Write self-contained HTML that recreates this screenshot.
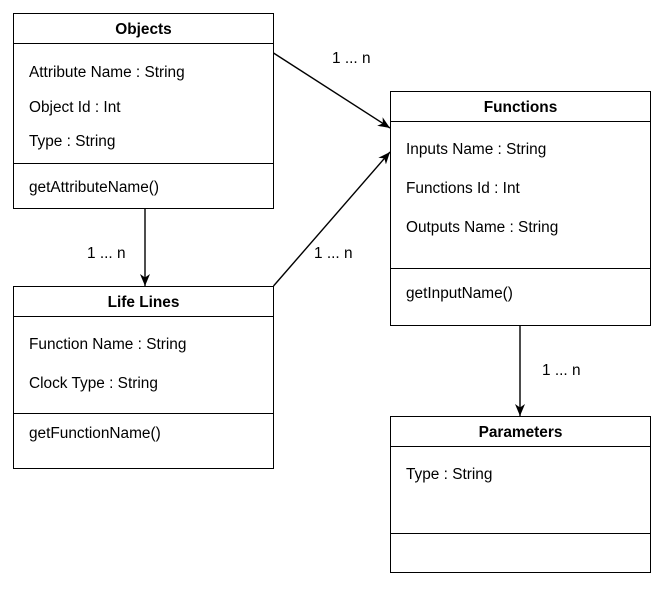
<!DOCTYPE html>
<html><head><meta charset="utf-8"><style>
html,body{margin:0;padding:0;background:#fff;}
svg text{font-family:"Liberation Sans",Arial,sans-serif;font-size:15.4px;fill:#000;}
.b{font-weight:bold;}
</style></head><body>
<svg width="666" height="587" viewBox="0 0 666 587" xmlns="http://www.w3.org/2000/svg">
<defs><marker id="a" markerWidth="14" markerHeight="14" refX="12" refY="6" orient="auto" markerUnits="userSpaceOnUse"><path d="M0,1 L12,6 L0,11 L3.5,6 Z" fill="#000"/></marker></defs>
<g fill="#fff" stroke="#000" stroke-width="1">
<rect x="13.5" y="13.5" width="260" height="195"/>
<line x1="13.5" y1="43.5" x2="273.5" y2="43.5"/>
<line x1="13.5" y1="163.5" x2="273.5" y2="163.5"/>
<rect x="13.5" y="286.5" width="260" height="182"/>
<line x1="13.5" y1="316.5" x2="273.5" y2="316.5"/>
<line x1="13.5" y1="413.5" x2="273.5" y2="413.5"/>
<rect x="390.5" y="91.5" width="260" height="234"/>
<line x1="390.5" y1="121.5" x2="650.5" y2="121.5"/>
<line x1="390.5" y1="268.5" x2="650.5" y2="268.5"/>
<rect x="390.5" y="416.5" width="260" height="156"/>
<line x1="390.5" y1="446.5" x2="650.5" y2="446.5"/>
<line x1="390.5" y1="533.5" x2="650.5" y2="533.5"/>
</g>
<g stroke="#000" stroke-width="1.4" fill="none" marker-end="url(#a)">
<line x1="273.5" y1="53" x2="390" y2="128"/>
<line x1="145" y1="208.5" x2="145" y2="286"/>
<line x1="273.5" y1="286" x2="390" y2="152"/>
<line x1="520" y1="325.5" x2="520" y2="416"/>
</g>
<text class="b" x="143.5" y="34" text-anchor="middle">Objects</text>
<text x="29" y="77">Attribute Name : String</text>
<text x="29" y="112">Object Id : Int</text>
<text x="29" y="146">Type : String</text>
<text x="29" y="192">getAttributeName()</text>
<text class="b" x="143.5" y="307" text-anchor="middle">Life Lines</text>
<text x="29" y="349">Function Name : String</text>
<text x="29" y="388">Clock Type : String</text>
<text x="29" y="438">getFunctionName()</text>
<text class="b" x="520.5" y="112" text-anchor="middle">Functions</text>
<text x="406" y="154">Inputs Name : String</text>
<text x="406" y="193">Functions Id : Int</text>
<text x="406" y="232">Outputs Name : String</text>
<text x="406" y="298">getInputName()</text>
<text class="b" x="520.5" y="437" text-anchor="middle">Parameters</text>
<text x="406" y="479">Type : String</text>
<text x="332" y="63">1 ... n</text>
<text x="87" y="258">1 ... n</text>
<text x="314" y="258">1 ... n</text>
<text x="542" y="375">1 ... n</text>
</svg>
</body></html>
